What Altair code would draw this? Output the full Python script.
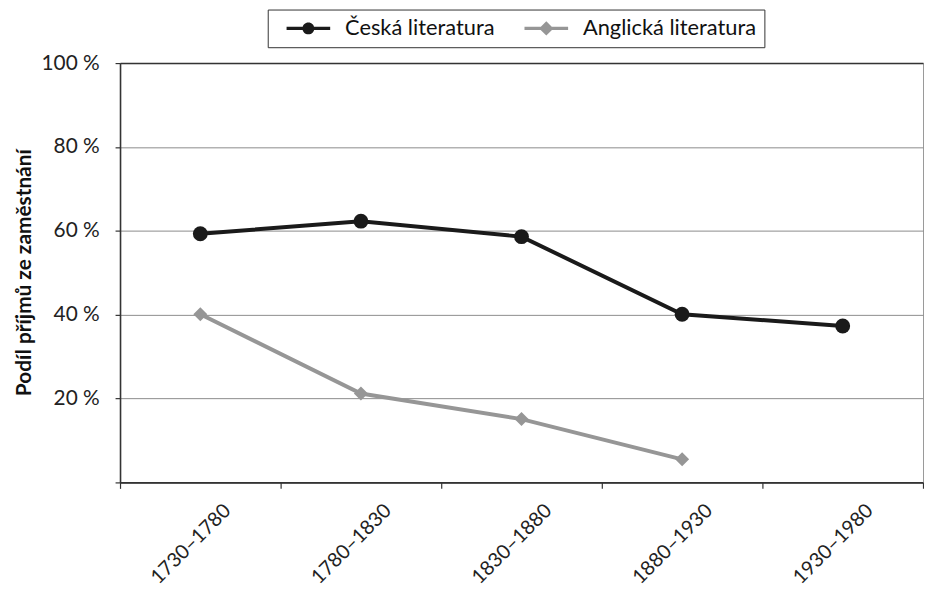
import altair as alt
import pandas as pd

periods = ["1730–1780", "1780–1830", "1830–1880", "1880–1930", "1930–1980"]
series_names = ["Česká literatura", "Anglická literatura"]
ceska = [59.3, 62.3, 58.6, 40.1, 37.3]
anglicka = [40.1, 21.2, 15.1, 5.5, None]
y_ticks = [0, 20, 40, 60, 80, 100]

colors = ["#1a1a1a", "#969696"]
point_shapes = ["circle", "diamond"]
point_sizes = [225, 200]
legend_paths = [
    "M-4.4,-0.35H-1V0.35H-4.4Z M1,-0.35H4.4V0.35H1Z M1.2,0A1.2,1.2,0,1,1,-1.2,0A1.2,1.2,0,1,1,1.2,0Z",
    "M-4.4,-0.35H-1V0.35H-4.4Z M1,-0.35H4.4V0.35H1Z M0,-1.45L1.45,0L0,1.45L-1.45,0Z",
]

rows = []
for p, v in zip(periods, ceska):
    rows.append({"period": p, "series": series_names[0], "value": v})
for p, v in zip(periods, anglicka):
    if v is not None:
        rows.append({"period": p, "series": series_names[1], "value": v})
df = pd.DataFrame(rows)

FONT = "Lato"

x_enc = alt.X(
    "period:N",
    sort=periods,
    scale=alt.Scale(type="band", domain=periods, paddingInner=0, paddingOuter=0),
    axis=alt.Axis(
        title=None,
        labelAngle=-45,
        labelAlign="right",
        labelBaseline="middle",
        labelFontSize=20,
        labelFont=FONT,
        labelColor="#222",
        labelOffset=27,
        labelPadding=19,
        tickBand="extent",
        tickSize=6,
        tickColor="#333",
        tickWidth=1.2,
        domainColor="#333",
        domainWidth=1.6,
        grid=False,
    ),
)
y_enc = alt.Y(
    "value:Q",
    scale=alt.Scale(domain=[0, 100], nice=False),
    axis=alt.Axis(
        values=y_ticks,
        labelExpr="datum.value == 0 ? '' : datum.value + ' %'",
        labelFontSize=21,
        labelFont=FONT,
        labelColor="#222",
        labelPadding=16,
        tickSize=5,
        tickColor="#333",
        tickWidth=1.2,
        domainColor="#333",
        domainWidth=1.6,
        grid=True,
        gridColor={"condition": {"test": "datum.value == 100", "value": "#333"}, "value": "#8c8c8c"},
        gridWidth={"condition": {"test": "datum.value == 100", "value": 1.6}, "value": 1},
        title="Podíl příjmů ze zaměstnání",
        titleFont=FONT,
        titleFontSize=21,
        titleFontWeight="bold",
        titleColor="#111",
        titleAngle=-90,
        titleAlign="center",
        titleBaseline="middle",
        titleX=-96,
        titleY=211,
    ),
)

layers = []
for name, col in zip(series_names, colors):
    sub = alt.Chart(df).transform_filter(alt.datum.series == name)
    layers.append(sub.mark_line(strokeWidth=4, color=col).encode(x=x_enc, y=y_enc))
for name, col, shp, sz in zip(series_names, colors, point_shapes, point_sizes):
    sub = alt.Chart(df).transform_filter(alt.datum.series == name)
    layers.append(
        sub.mark_point(filled=True, size=sz, opacity=1, color=col, shape=shp).encode(x=x_enc, y=y_enc)
    )

legend_def = alt.Legend(
    title=None,
    orient="none",
    legendX=149,
    legendY=-54,
    direction="horizontal",
    columns=2,
    labelLimit=0,
)
ghost = alt.Chart(df).transform_filter("false").mark_point(filled=True, opacity=1).encode(
    color=alt.Color("series:N", scale=alt.Scale(domain=series_names, range=colors), legend=legend_def),
    shape=alt.Shape("series:N", scale=alt.Scale(domain=series_names, range=legend_paths), legend=legend_def),
)
layers.append(ghost)

chart = (
    alt.layer(*layers)
    .properties(
        width=810,
        height=423,
        autosize=alt.AutoSizeParams(type="none"),
        padding={"left": 113, "top": 53, "right": 1, "bottom": 110},
    )
    .configure_view(stroke="#999", strokeWidth=1)
    .configure_legend(
        strokeColor="#333",
        fillColor="white",
        padding=8,
        labelFont=FONT,
        labelFontSize=22,
        labelColor="#111",
        labelLimit=0,
        symbolSize=100,
        symbolStrokeWidth=0,
        symbolOffset=22,
        labelOffset=26,
        columnPadding=19,
        cornerRadius=0,
    )
)

chart.save("out.html", embed_options={"renderer": "svg", "actions": False})
